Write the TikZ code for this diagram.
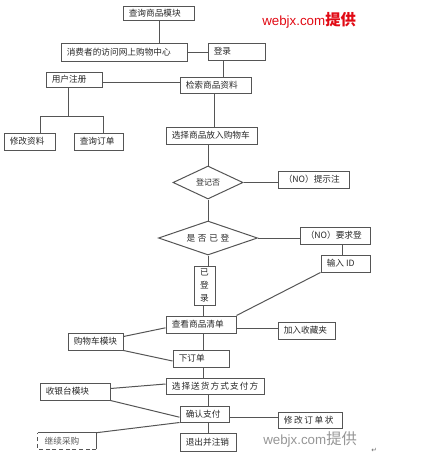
\documentclass[tikz,border=0pt]{standalone}
\usepackage{fontspec}
\setmainfont{Noto Sans CJK SC}
\newfontfamily\wmfont{Liberation Sans}
\newfontfamily\symfont{DejaVu Sans}
\usetikzlibrary{shapes.geometric,calc}
\definecolor{linec}{RGB}{85,85,85}
\definecolor{wmred}{RGB}{225,10,20}
\definecolor{wmgray}{RGB}{150,150,150}
\tikzset{
  bx/.style={draw=linec, line width=0.75pt, inner sep=0pt},
  lbl/.style={inner sep=0pt, font=\fontsize{6.5}{7}\selectfont, text=black!85},
  ln/.style={draw=linec, line width=0.75pt},
  dm/.style={diamond, draw=linec, line width=0.75pt, inner sep=0pt},
}
\newcommand\bx[6]{%
  \node[bx, minimum width={(#4-#2)*0.75pt}, minimum height={(#5-#3)*0.75pt}] (#1) at ({(#2+#4)/2},{(#3+#5)/2}) {};
  \node[lbl, anchor=west] (#1t) at ([xshift=4.5pt]#1.west) {#6};}
\begin{document}
\begin{tikzpicture}[x=0.75pt,y=-0.75pt]
\useasboundingbox (0,0) rectangle (437,457);
% helper coordinates
\foreach \v in {159,223,68,40,103,214,208,342,203}{\coordinate (X\v) at (\v,0);}
\foreach \v in {82,116,328,417}{\coordinate (Y\v) at (0,\v);}
% boxes
\bx{cx}{123}{6}{194}{20}{查询商品模块}
\bx{xf}{61}{43}{187}{61}{消费者的访问网上购物中心}
\bx{dl}{208}{43}{265}{60}{登录}
\bx{zc}{46}{72}{102}{87}{用户注册}
\bx{js}{180}{77}{251}{93}{检索商品资料}
\bx{xg}{4}{133}{55}{150}{修改资料}
\bx{cd}{74}{133}{123}{150}{查询订单}
\bx{xz}{166}{127}{257}{144}{选择商品放入购物车}
\node[dm, minimum width={70*0.75pt}, minimum height={33*0.75pt}] (d1) at (208,182.5) {};
\node[lbl, font=\fontsize{6}{6.5}\selectfont] (d1t) at (d1) {登记否};
\bx{ts}{278}{171}{349}{188}{（NO）提示注}
\node[dm, minimum width={99*0.75pt}, minimum height={34*0.75pt}] (d2) at (208,238) {};
\node[lbl] (d2t) at (d2) {是\hspace{2pt}否\hspace{2pt}已\hspace{2pt}登};
\bx{yq}{300}{227}{370}{244}{（NO）要求登}
\bx{sr}{321}{255}{370}{272}{输入 ID}
\node[bx, minimum width={21*0.75pt}, minimum height={39*0.75pt}] (yd) at (204.5,285.5) {};
\node[lbl, align=center, font=\fontsize{6.5}{9.5}\selectfont] (ydt) at (yd) {已\\登\\录};
\bx{ck}{166}{316}{236}{333}{查看商品清单}
\bx{sc}{278}{322}{335}{339}{加入收藏夹}
\bx{gw}{68}{333}{123}{350}{购物车模块}
\bx{xd}{173}{350}{229}{367}{下订单}
\bx{sh}{166}{378}{264}{394}{选\hspace{0.8pt}择\hspace{0.8pt}送\hspace{0.8pt}货\hspace{0.8pt}方\hspace{0.8pt}式\hspace{0.8pt}支\hspace{0.8pt}付\hspace{0.8pt}方}
\bx{sy}{40}{383}{110}{400}{收银台模块}
\bx{qr}{180}{406}{229}{422}{确认支付}
\bx{xs}{278}{412}{342}{428}{修\hspace{1.2pt}改\hspace{1.2pt}订\hspace{1.2pt}单\hspace{1.2pt}状}
\bx{tc}{180}{433}{236}{451}{退出并注销}
% dashed-edged box
\node[inner sep=0pt, minimum width={58*0.75pt}, minimum height={16*0.75pt}] (jx) at (67,441) {};
\node[lbl, anchor=west, text=black!65] (jxt) at ([xshift=5pt]jx.west) {继续采购};
\draw[ln] (jx.north west) -- (jx.north east) -- (jx.south east);
\draw[ln, densely dashed, line width=0.6pt] (jx.south east) -- (jx.south west) -- (jx.north west);
% connectors
\draw[ln] (cx.south -| X159) -- (xf.north -| X159);
\draw[ln] (xf.east) -- (dl.west |- xf.east);
\draw[ln] (dl.south -| X223) -- (js.north -| X223);
\draw[ln] (zc.east |- Y82) -- (js.west |- Y82);
\coordinate (b0) at (68,116);
\coordinate (b1) at (40,116);
\coordinate (b2) at (103,116);
\draw[ln] (zc.south -| X68) -- (b0);
\draw[ln] (xg.north -| X40) -- (b1) -- (b2) -- (cd.north -| X103);
\draw[ln] (js.south -| X214) -- (xz.north -| X214);
\draw[ln] (xz.south -| d1.north) -- (d1.north);
\draw[ln] (d1.east) -- (ts.west |- d1.east);
\draw[ln] (d1.south) -- (d2.north);
\draw[ln] (d2.east) -- (yq.west |- d2.east);
\draw[ln] (yq.south -| X342) -- (sr.north -| X342);
\draw[ln] (sr.south west) -- (ck.north east);
\draw[ln] (d2.south) -- (d2.south |- yd.north);
\draw[ln] (yd.south -| X203) -- (ck.north -| X203);
\draw[ln] (ck.east |- Y328) -- (sc.west |- Y328);
\draw[ln] ($(gw.north east)+(0,4)$) -- ($(ck.west)+(0,3.3)$);
\draw[ln] (gw.south east) -- ($(xd.west)+(0,2.5)$);
\draw[ln] (ck.south -| X203) -- (xd.north -| X203);
\draw[ln] (xd.south -| X203) -- (sh.north -| X203);
\draw[ln] ($(sy.north east)+(0,6)$) -- ($(sh.west)+(0,-2)$);
\draw[ln] (sy.south east) -- ($(qr.south west)+(0,-5.3)$);
\draw[ln] (sh.south -| X208) -- (qr.north -| X208);
\draw[ln] (qr.east |- Y417) -- (xs.west |- Y417);
\draw[ln] (jx.north east) -- (qr.south west);
\draw[ln] (qr.south -| X208) -- (tc.north -| X208);
% watermarks
\node[anchor=base west, inner sep=0pt, text=wmred] (wm1) at (262,25) {\wmfont\fontsize{10}{12}\selectfont webjx.com\normalfont\bfseries\fontsize{11.5}{12}\selectfont 提供};
\node[anchor=base west, inner sep=0pt, text=wmgray] (wm2) at (263,444) {\wmfont\fontsize{10}{12}\selectfont webjx.com\normalfont\fontsize{11.5}{12}\selectfont 提供};
\node[anchor=base west, inner sep=0pt, text=black!60] (ret) at (371,452) {\symfont\fontsize{5}{6}\selectfont ↵};
\end{tikzpicture}
\end{document}
